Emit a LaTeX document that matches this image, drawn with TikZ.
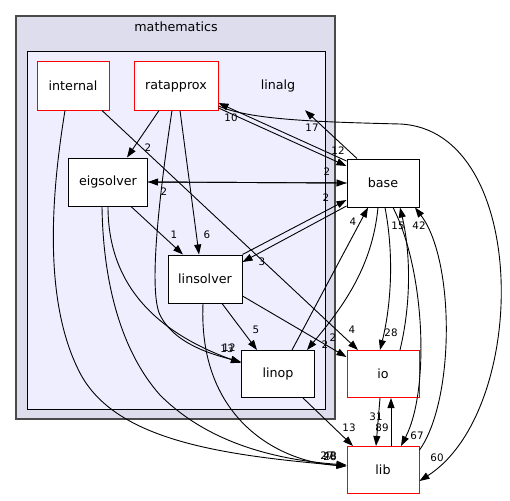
\documentclass[tikz,border=0pt]{standalone}
\usepackage{fontspec}
\setmainfont{DejaVu Sans}
\usepackage{tikz}
\usetikzlibrary{positioning,calc,arrows.meta}
\definecolor{OuterFill}{HTML}{DDDDEE}
\definecolor{InnerFill}{HTML}{EEEEFF}
\definecolor{OuterLine}{HTML}{4A4A4A}
\tikzset{
    dirnode/.style={draw=black, fill=white, line width=1pt, minimum width=72pt, minimum height=48pt, inner sep=0pt, font=\fontsize{12.7}{15}\selectfont},
    extnode/.style={dirnode, draw=red},
    dep/.style={draw=black, line width=0.9pt, -{Triangle[length=10pt,width=7pt]}},
    lbl/.style={inner sep=0pt, font=\fontsize{10.3}{12}\selectfont}
}

\begin{document}
\begin{tikzpicture}[x=1pt, y=-1pt,
        % cluster boxes
        outerbox/.style={draw=OuterLine, fill=OuterFill, line width=1.6pt},
        innerbox/.style={draw=black, fill=InnerFill, line width=1pt}
    ]
        \useasboundingbox (0,0) rectangle (510,500);

        % --- CLUSTERS ---
        \draw[outerbox] (16,16) rectangle (335,419);
        \node[font=\fontsize{12.7}{15}\selectfont] (mathematics) at (176,27) {mathematics};
        \draw[innerbox] (27,52) rectangle (325,409);
        \node[font=\fontsize{12.7}{15}\selectfont, minimum width=72pt, minimum height=48pt] (linalg) at (278,86) {linalg};

        % --- NODES ---
        \node[extnode] (internal) at (73,86) {internal};
        \node[extnode, minimum width=84pt] (ratapprox) at (176,86) {ratapprox};
        \node[dirnode, minimum width=79pt] (eigsolver) at (108,182) {eigsolver};
        \node[dirnode, minimum width=74pt] (linsolver) at (205,279) {linsolver};
        \node[dirnode, minimum width=73pt, minimum height=47pt] (linop) at (278,374) {linop};
        \node[dirnode] (base) at (383,183) {base};
        \node[extnode, minimum height=47pt] (io) at (383,374) {io};
        \node[extnode, minimum height=47pt] (lib) at (383,470) {lib};

        % --- EDGES inside linalg ---
        \draw[dep] ([xshift=29]internal.south) -- ([xshift=-25]io.north) node[lbl] at (352,330) {4};
        \draw[dep] ([xshift=-8]internal.south) .. controls (52,190) and (42,300) .. (80,373)
            .. controls (115,440) and (220,455) .. ([yshift=4]lib.west) node[lbl] at (327,456) {27};
        \draw[dep] ([xshift=-17]ratapprox.south) -- ([xshift=19]eigsolver.north) node[lbl] at (148,148) {2};
        \draw[dep] ([xshift=4]ratapprox.south) -- ([xshift=-6]linsolver.north) node[lbl] at (207,235) {6};
        \draw[dep] ([xshift=-4]ratapprox.south) .. controls (160,190) and (148,290) .. (160,315)
            .. controls (175,345) and (215,355) .. ([yshift=12]linop.west) node[lbl] at (227,349) {13};
        \draw[dep] ([yshift=-22]ratapprox.east) -- ([yshift=17]base.west) node[lbl] at (338,151) {12};
        \draw[dep] ([yshift=22]base.west) -- ([yshift=-17]ratapprox.east) node[lbl] at (231,118) {10};
        \draw[dep] ([yshift=-20]ratapprox.east) .. controls (250,120) and (320,122) .. (400,124)
            .. controls (530,130) and (530,410) .. ([yshift=-11]lib.east) node[lbl] at (437,458) {60};
        \draw[dep] ([xshift=-26]base.north) -- ([xshift=27]linalg.south) node[lbl] at (312,128) {17};

        \draw[dep] (eigsolver.east) -- (base.west) node[lbl] at (327,172) {2};
        \draw[dep] (base.west) -- (eigsolver.east) node[lbl] at (164,192) {2};
        \draw[dep] ([xshift=23]eigsolver.south) -- ([xshift=-22]linsolver.north) node[lbl] at (174,235) {1};
        \draw[dep] (eigsolver.south) .. controls (108,280) and (150,330) .. ([yshift=11]linop.west) node[lbl] at (229,348) {12};
        \draw[dep] ([xshift=-6]eigsolver.south) .. controls (103,280) and (120,350) .. (160,395)
            .. controls (210,445) and (280,460) .. ([yshift=5]lib.west) node[lbl] at (330,456) {48};

        \draw[dep] (linsolver.north east) -- ([yshift=-17]base.west) node[lbl] at (326,198) {2};
        \draw[dep] ([yshift=-23]base.west) -- ([yshift=17]linsolver.east) node[lbl] at (262,262) {3};
        \draw[dep] ([xshift=17]linsolver.south) -- ([xshift=-21]linop.north) node[lbl] at (256,330) {5};
        \draw[dep] ([yshift=-17]linsolver.east) -- ([yshift=17]io.west) node[lbl] at (333,338) {2};
        \draw[dep] ([xshift=-2]linsolver.south) .. controls (198,420) and (280,462) .. ([yshift=4]lib.west) node[lbl] at (330,457) {28};

        % --- EDGES outside ---
        \draw[dep] ([xshift=14]linop.north) -- ([xshift=-15]base.south) node[lbl] at (353,222) {4};
        \draw[dep] ([xshift=-5]base.south) .. controls (372,270) and (340,310) .. ([xshift=29]linop.north) node[lbl] at (325,345) {2};
        \draw[dep] ([xshift=25]linop.south) -- ([xshift=-30]lib.north) node[lbl] at (349,428) {13};
        \draw[dep] ([xshift=2]base.south) .. controls (395,260) and (390,310) .. ([xshift=-3]io.north) node[lbl] at (391,333) {28};
        \draw[dep] ([xshift=17]io.north) .. controls (412,300) and (410,250) .. ([xshift=17]base.south) node[lbl] at (398,226) {15};
        \draw[dep] ([xshift=10]base.south) .. controls (425,270) and (430,390) .. ([xshift=18]lib.north) node[lbl] at (417,436) {67};
        \draw[dep] ([yshift=20]lib.east) .. controls (455,400) and (455,260) .. ([xshift=32]base.south) node[lbl] at (419,226) {42};
        \draw[dep] ([xshift=-3]io.south) -- ([xshift=-7]lib.north) node[lbl] at (382,428) {89};
        \draw[dep] ([xshift=8]lib.north) -- ([xshift=8]io.south) node[lbl] at (376,417) {31};

    \end{tikzpicture}
\end{document}
